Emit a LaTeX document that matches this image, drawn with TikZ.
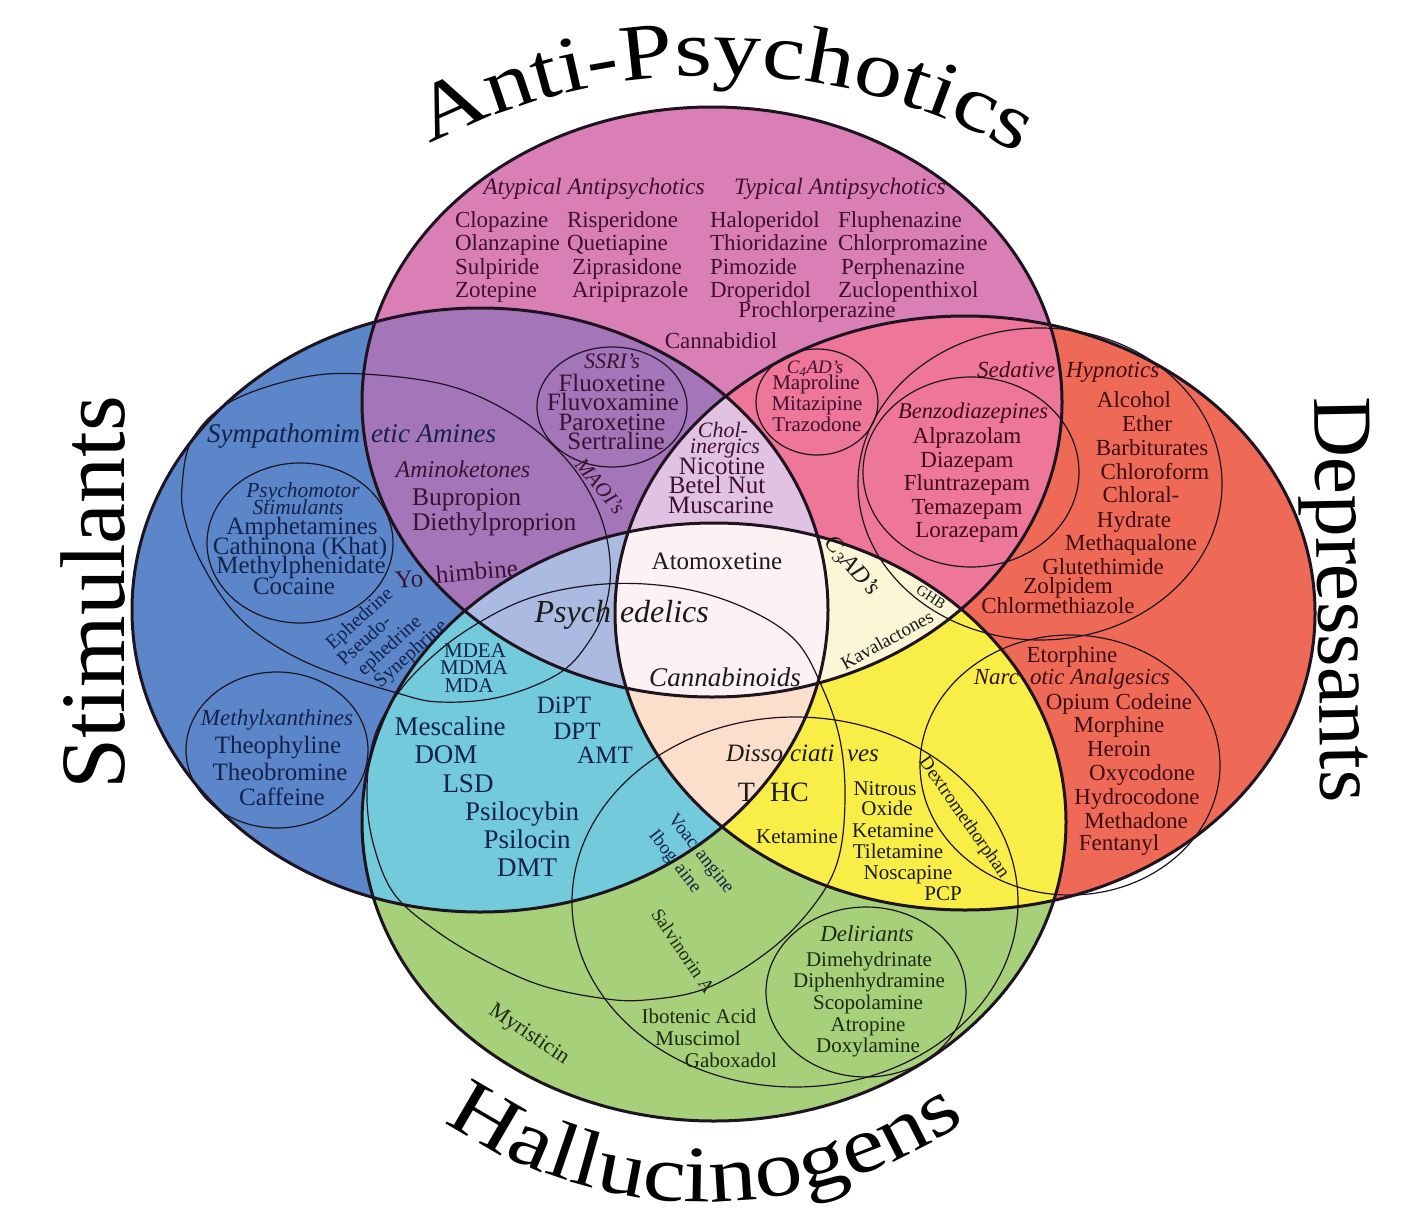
\documentclass[tikz,border=0pt]{standalone}
\usepackage{fontspec}
\setmainfont{Liberation Serif}
\newfontfamily\ttlfam[FakeStretch=1.2]{Liberation Serif}
\usetikzlibrary{decorations.text}
\definecolor{cB}{HTML}{5B86C9}
\definecolor{cP}{HTML}{D97FB6}
\definecolor{cR}{HTML}{EF6A56}
\definecolor{cG}{HTML}{A7D07B}
\definecolor{cBP}{HTML}{A575BA}
\definecolor{cPR}{HTML}{EE7699}
\definecolor{cBG}{HTML}{72CADB}
\definecolor{cRG}{HTML}{F9ED48}
\definecolor{cBPR}{HTML}{E2C2E2}
\definecolor{cBPG}{HTML}{ABBAE1}
\definecolor{cPRG}{HTML}{FCF5D6}
\definecolor{cBRG}{HTML}{FBDFCB}
\definecolor{cAll}{HTML}{FDF1F3}
\definecolor{tB}{HTML}{14224A}
\definecolor{tP}{HTML}{3D1030}
\definecolor{tR}{HTML}{3B0D12}
\definecolor{tG}{HTML}{1C2A10}
\definecolor{tK}{HTML}{1A1A1A}
\definecolor{lineK}{HTML}{1E1420}
\newcommand\ttlfont{\ttlfam\fontsize{80}{80}\selectfont}
\def\shB{(480,610) ellipse [x radius=348pt, y radius=302pt]}
\def\shP{(712,402) ellipse [x radius=350pt, y radius=295pt]}
\def\shR{(965,613) ellipse [x radius=350pt, y radius=297pt]}
\def\shG{(714,822) ellipse [x radius=352pt, y radius=299pt]}
\tikzset{
  tx/.style={font=\fontsize{#1}{#1}\selectfont, inner sep=0pt, outer sep=0pt, text height=\dimexpr #1pt*66/100\relax, text depth=0pt},
  ti/.style={font=\fontsize{#1}{#1}\selectfont\itshape, inner sep=0pt, outer sep=0pt, text height=\dimexpr #1pt*66/100\relax, text depth=0pt},
  thickline/.style={line width=3pt, draw=lineK},
  thinline/.style={line width=1.2pt, draw=lineK},
}
\begin{document}
\begin{tikzpicture}[x=1pt,y=-1pt]
\useasboundingbox (0,0) rectangle (1424,1218);
\fill[white] (0,0) rectangle (1424,1218);
% single sets
\fill[cB] \shB;
\fill[cP] \shP;
\fill[cR] \shR;
\fill[cG] \shG;
% pairs
\begin{scope}\clip \shB; \fill[cBP] \shP; \end{scope}
\begin{scope}\clip \shP; \fill[cPR] \shR; \end{scope}
\begin{scope}\clip \shB; \fill[cBG] \shG; \end{scope}
\begin{scope}\clip \shR; \fill[cRG] \shG; \end{scope}
% triples
\begin{scope}\clip \shB; \clip \shP; \fill[cBPR] \shR; \end{scope}
\begin{scope}\clip \shB; \clip \shP; \fill[cBPG] \shG; \end{scope}
\begin{scope}\clip \shP; \clip \shR; \fill[cPRG] \shG; \end{scope}
\begin{scope}\clip \shB; \clip \shR; \fill[cBRG] \shG; \end{scope}
% all four
\begin{scope}\clip \shB; \clip \shP; \clip \shR; \fill[cAll] \shG; \end{scope}

% thin sub-sets
\draw[thinline] (612,407) ellipse [x radius=75pt, y radius=60pt];
\draw[thinline] (817,402) ellipse [x radius=61pt, y radius=53pt];
\draw[thinline] (1040,484) ellipse [x radius=182pt, y radius=156pt];
\draw[thinline] (971,472) ellipse [x radius=108pt, y radius=95pt];
\draw[thinline] (300,543) ellipse [x radius=93pt, y radius=80pt];
\draw[thinline] (277,750) ellipse [x radius=91pt, y radius=78pt];
\draw[thinline] (795,902) ellipse [x radius=223pt, y radius=185pt];
\draw[thinline] (1070,765) ellipse [x radius=150pt, y radius=130pt];
\draw[thinline] (866,992) ellipse [x radius=100pt, y radius=85pt];
\draw[thinline] plot[smooth cycle, tension=0.6] coordinates {(182,487) (192,440) (230,402) (300,378) (363,374) (450,386) (517,417) (567,460) (598,510) (610,560) (606,605) (588,643) (558,674) (500,697) (440,702) (397,693) (317,667) (262,637) (228,605) (200,560) (185,520)};
\draw[thinline] plot[smooth cycle, tension=0.6] coordinates {(367,800) (372,745) (390,705) (420,668) (467,630) (530,598) (605,584) (680,588) (745,608) (795,640) (822,687) (840,740) (845,800) (838,860) (814,905) (770,950) (707,988) (645,1000) (600,998) (540,985) (484,960) (435,930) (395,895) (375,850)};

% main outlines
\draw[thickline] \shB;
\draw[thickline] \shP;
\draw[thickline] \shR;
\draw[thickline] \shG;

% titles
\path[decorate, decoration={text along path, text={|\ttlfont|Anti-Psychotics}, text align=center, text color=black}] (324.8,213.2) arc[start angle=129, end angle=49, radius=620pt];
\path[decorate, decoration={text along path, text={|\ttlfont|Hallucinogens}, text align=center, text color=black}] (409.3,1094.4) arc[start angle=-130, end angle=-50, radius=460pt];
\node[font=\fontsize{92}{92}\selectfont, inner sep=0pt, rotate=90, anchor=base] (stim) at (124,593) {Stimulants};
\node[font=\fontsize{84}{84}\selectfont, inner sep=0pt, rotate=-89, anchor=base] (dep) at (1318,600) {Depressants};

% Anti-psychotics only
\begin{scope}[text=tP]
\node[ti=23.5] (a1) at (594,187) {Atypical Antipsychotics};
\node[ti=23.5] (a2) at (840,187) {Typical Antipsychotics};
\node[tx=23, anchor=west] (p11) at (455,220) {Clopazine};
\node[tx=23, anchor=west] (p12) at (455,243) {Olanzapine};
\node[tx=23, anchor=west] (p13) at (455,267) {Sulpiride};
\node[tx=23, anchor=west] (p14) at (455,290) {Zotepine};
\node[tx=23, anchor=west] (p21) at (567,220) {Risperidone};
\node[tx=23, anchor=west] (p22) at (567,243) {Quetiapine};
\node[tx=23, anchor=west] (p23) at (572,267) {Ziprasidone};
\node[tx=23, anchor=west] (p24) at (572,290) {Aripiprazole};
\node[tx=23, anchor=west] (p31) at (710,220) {Haloperidol};
\node[tx=23, anchor=west] (p32) at (710,243) {Thioridazine};
\node[tx=23, anchor=west] (p33) at (710,267) {Pimozide};
\node[tx=23, anchor=west] (p34) at (710,290) {Droperidol};
\node[tx=23, anchor=west] (p41) at (838,220) {Fluphenazine};
\node[tx=23, anchor=west] (p42) at (838,243) {Chlorpromazine};
\node[tx=23, anchor=west] (p43) at (841,267) {Perphenazine};
\node[tx=23, anchor=west] (p44) at (838,290) {Zuclopenthixol};
\node[tx=23] (p5) at (817,310) {Prochlorperazine};
\node[tx=23] (p6) at (721,341) {Cannabidiol};
% SSRI
\node[ti=22] (s0) at (612,361) {SSRI's};
\node[tx=25] (s1) at (612,383) {Fluoxetine};
\node[tx=25] (s2) at (613,402) {Fluvoxamine};
\node[tx=25] (s3) at (612,422) {Paroxetine};
\node[tx=25] (s4) at (616,441) {Sertraline};
% cholinergics
\node[ti=22] (c0a) at (723,430) {Chol-};
\node[ti=22] (c0b) at (725,446) {inergics};
\node[tx=25] (c1) at (722,466) {Nicotine};
\node[tx=25] (c2) at (717,485) {Betel Nut};
\node[tx=25] (c3) at (721,505) {Muscarine};
% C4 AD's
\node[ti=19] (d0) at (815,367) {C\textsubscript{4}AD's};
\node[tx=21] (d1) at (816,383) {Maproline};
\node[tx=21] (d2) at (817,404) {Mitazipine};
\node[tx=21] (d3) at (817,425) {Trazodone};
\end{scope}

% Depressants / sedatives
\begin{scope}[text=tR]
\node[ti=23, anchor=east] (e0a) at (1055,370) {Sedative};
\node[ti=23, anchor=west] (e0b) at (1066,370) {Hypnotics};
\node[ti=22.5] (e1) at (973,411) {Benzodiazepines};
\node[tx=23] (e2) at (967,436) {Alprazolam};
\node[tx=23] (e3) at (967,460) {Diazepam};
\node[tx=23] (e4) at (967,483) {Fluntrazepam};
\node[tx=23] (e5) at (967,507) {Temazepam};
\node[tx=23] (e6) at (967,530) {Lorazepam};
\node[tx=23] (e7) at (1134,400) {Alcohol};
\node[tx=23] (e8) at (1147,424) {Ether};
\node[tx=23] (e9) at (1152,448) {Barbiturates};
\node[tx=23] (e10) at (1155,472) {Chloroform};
\node[tx=23] (e11) at (1141,495) {Chloral-};
\node[tx=23] (e12) at (1134,520) {Hydrate};
\node[tx=23] (e13) at (1131,543) {Methaqualone};
\node[tx=23] (e14) at (1103,567) {Glutethimide};
\node[tx=23] (e15) at (1068,586) {Zolpidem};
\node[tx=23] (e16) at (1058,606) {Chlormethiazole};
% narcotics
\node[tx=23] (n1) at (1072,655) {Etorphine};
\node[ti=23, anchor=east] (n0a) at (1019,677) {Narc};
\node[ti=23, anchor=west] (n0b) at (1030,677) {otic Analgesics};
\node[tx=23] (n2) at (1119,702) {Opium Codeine};
\node[tx=23] (n3) at (1119,725) {Morphine};
\node[tx=23] (n4) at (1119,749) {Heroin};
\node[tx=23] (n5) at (1142,773) {Oxycodone};
\node[tx=23] (n6) at (1137,797) {Hydrocodone};
\node[tx=23] (n7) at (1136,821) {Methadone};
\node[tx=23] (n8) at (1119,843) {Fentanyl};
\end{scope}

% cream region
\begin{scope}[text=tK]
\node[tx=15, rotate=-33] (g1) at (931,597) {GHB};
\node[ti=24, rotate=-48] (g2) at (853,565) {C\textsubscript{3}AD's};
\node[tx=19, rotate=29] (g3) at (887,640) {Kavalactones};
\end{scope}

% Stimulants
\begin{scope}[text=tB]
\node[ti=27, anchor=east] (b0a) at (360,434) {Sympathomim};
\node[ti=27, anchor=west] (b0b) at (371,434) {etic Amines};
\node[ti=21.5] (b1) at (303,490) {Psychomotor};
\node[ti=21.5] (b2) at (298,507) {Stimulants};
\node[tx=25] (b3) at (302,526) {Amphetamines};
\node[tx=25] (b4) at (300,546) {Cathinona (Khat)};
\node[tx=25] (b5) at (301,565) {Methylphenidate};
\node[tx=25] (b6) at (294,586) {Cocaine};
\node[tx=20, rotate=42] (b12) at (359,618) {Ephedrine};
\node[tx=20, rotate=42] (b13) at (364,640) {Pseudo-};
\node[tx=20, rotate=42] (b14) at (389,645) {ephedrine};
\node[tx=20, rotate=42] (b15) at (410,653) {Synephrine};
\node[ti=23] (m0) at (277,718) {Methylxanthines};
\node[tx=25] (m1) at (278,745) {Theophyline};
\node[tx=25] (m2) at (280,772) {Theobromine};
\node[tx=25] (m3) at (282,797) {Caffeine};
\end{scope}
\begin{scope}[text=tP]
\node[ti=24] (b7) at (463,470) {Aminoketones};
\node[tx=25.5, anchor=west] (b8) at (412,497) {Bupropion};
\node[tx=25.5, anchor=west] (b9) at (412,522) {Diethylproprion};
\node[tx=25, anchor=east, rotate=5] (b10a) at (423,578) {Yo};
\node[tx=25, anchor=west, rotate=5] (b10b) at (436,575) {himbine};
\node[ti=21, rotate=-50] (b11) at (600,486) {MAOI's};
\end{scope}

% cyan / psychedelics
\begin{scope}[text=tB]
\node[tx=21] (h1) at (475,651) {MDEA};
\node[tx=21] (h2) at (474,668) {MDMA};
\node[tx=21] (h3) at (469,686) {MDA};
\node[tx=27] (h4) at (450,727) {Mescaline};
\node[tx=27] (h5) at (446,755) {DOM};
\node[tx=27] (h6) at (468,784) {LSD};
\node[tx=27] (h7) at (522,812) {Psilocybin};
\node[tx=27] (h8) at (527,840) {Psilocin};
\node[tx=27] (h9) at (527,868) {DMT};
\node[tx=25] (h10) at (564,705) {DiPT};
\node[tx=25] (h11) at (577,731) {DPT};
\node[tx=25] (h12) at (605,755) {AMT};
\node[tx=19, rotate=-52] (h13) at (702,853) {Voac\hspace{7pt}angine};
\node[tx=19, rotate=-52] (h14) at (676,861) {Ibog\hspace{7pt}aine};
\end{scope}
\begin{scope}[text=tK]
\node[ti=32, anchor=east] (ps1) at (611,612) {Psych};
\node[ti=32, anchor=west] (ps2) at (620,612) {edelics};
\node[tx=25] (w1) at (717,561) {Atomoxetine};
\node[ti=27] (w2) at (725,678) {Cannabinoids};
\node[tx=28, anchor=east] (t1) at (755,792) {T};
\node[tx=28, anchor=west] (t2) at (770,792) {HC};
\node[tx=21] (k1) at (797,837) {Ketamine};
\node[ti=25, anchor=east] (ds1) at (783,753) {Disso};
\node[ti=25, anchor=west] (ds2) at (790,753) {ciati};
\node[ti=25, anchor=west] (ds3) at (847,753) {ves};
% yellow
\node[tx=21] (y1) at (885,789) {Nitrous};
\node[tx=21] (y2) at (887,809) {Oxide};
\node[tx=21] (y3) at (893,831) {Ketamine};
\node[tx=21] (y4) at (898,852) {Tiletamine};
\node[tx=21] (y5) at (908,873) {Noscapine};
\node[tx=21] (y6) at (943,894) {PCP};
\node[tx=19, rotate=-55] (y7) at (965,817) {Dextromethorphan};
\end{scope}

% green
\begin{scope}[text=tG]
\node[tx=22, rotate=-34] (gr1) at (530,1033) {Myristicin};
\node[tx=19, rotate=-56] (gr2) at (683,951) {Salvinorin A};
\node[tx=21] (gr3) at (699,1017) {Ibotenic Acid};
\node[tx=21] (gr4) at (698,1039) {Muscimol};
\node[tx=21] (gr5) at (731,1061) {Gaboxadol};
\node[ti=23] (dl0) at (867,934) {Deliriants};
\node[tx=21] (dl1) at (869,960) {Dimehydrinate};
\node[tx=21] (dl2) at (869,981) {Diphenhydramine};
\node[tx=21] (dl3) at (868,1003) {Scopolamine};
\node[tx=21] (dl4) at (868,1025) {Atropine};
\node[tx=21] (dl5) at (868,1046) {Doxylamine};
\end{scope}
\end{tikzpicture}
\end{document}
